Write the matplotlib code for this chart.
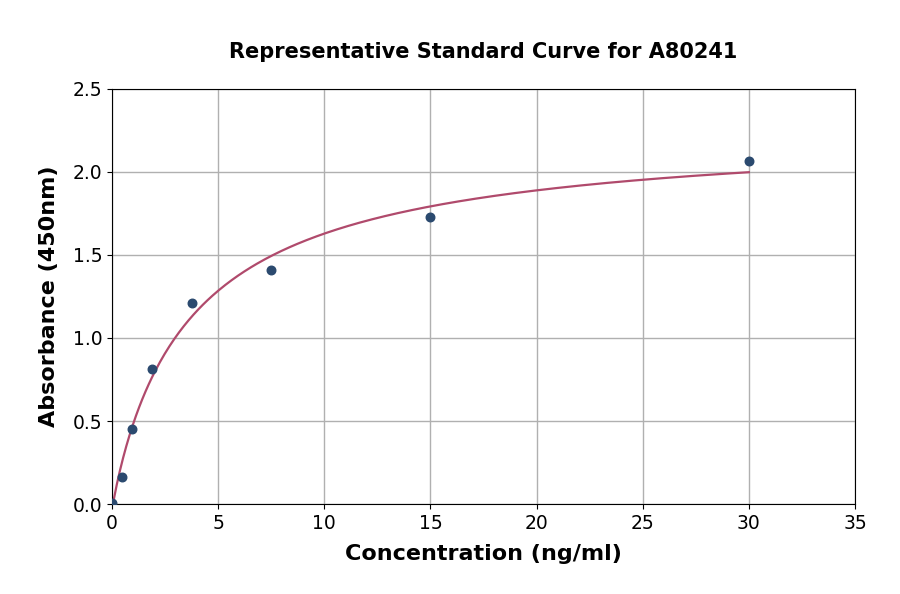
import numpy as np
import matplotlib
matplotlib.use("Agg")
import matplotlib.pyplot as plt

# standard concentrations (ng/ml) and measured absorbance
conc = [0, 0.47, 0.94, 1.88, 3.75, 7.5, 15, 30]
absorb = [0.005, 0.163, 0.452, 0.813, 1.21, 1.41, 1.729, 2.066]

TITLE = "Representative Standard Curve for A80241"
XLABEL = "Concentration (ng/ml)"
YLABEL = "Absorbance (450nm)"


def fit_4pl(x, y):
    # grid search over slope/ec50, solve bottom/top linearly
    x = np.asarray(x, float)
    y = np.asarray(y, float)
    best = None
    for b in np.linspace(0.4, 2.5, 120):
        for c in np.geomspace(0.5, 200, 300):
            g = 1.0 / (1.0 + (x / c) ** b)
            A = np.column_stack([g, 1 - g])
            coef, *_ = np.linalg.lstsq(A, y, rcond=None)
            err = np.sum((A @ coef - y) ** 2)
            if best is None or err < best[0]:
                best = (err, coef[0], b, c, coef[1])
    _, a, b, c, d = best
    return lambda t: d + (a - d) / (1.0 + (np.asarray(t) / c) ** b)


curve = fit_4pl(conc, absorb)
xs = np.linspace(0, max(conc), 400)

fig = plt.figure(figsize=(9, 5.94), dpi=100)
ax = fig.add_axes([0.1244, 0.1515, 0.8256, 0.6987])
ax.plot(xs, curve(xs), color="#b04a6c", lw=1.6, zorder=2)
ax.scatter(conc, absorb, s=38, color="#2b4a6f", zorder=3)

ax.set_xlim(0, 35)
ax.set_ylim(0, 2.5)
ax.set_xticks(np.arange(0, 36, 5))
ax.set_yticks(np.arange(0, 2.51, 0.5))
ax.set_yticklabels([f"{v:.1f}" for v in np.arange(0, 2.51, 0.5)])
ax.grid(True, color="#b0b0b0", lw=1)
ax.set_axisbelow(True)
ax.tick_params(labelsize=13.5)
ax.set_xlabel(XLABEL, fontsize=16, fontweight="bold", labelpad=8)
ax.set_ylabel(YLABEL, fontsize=16, fontweight="bold", labelpad=10)
ax.set_title(TITLE, fontsize=15, fontweight="bold", pad=22)

fig.savefig("out.png", dpi=100)
